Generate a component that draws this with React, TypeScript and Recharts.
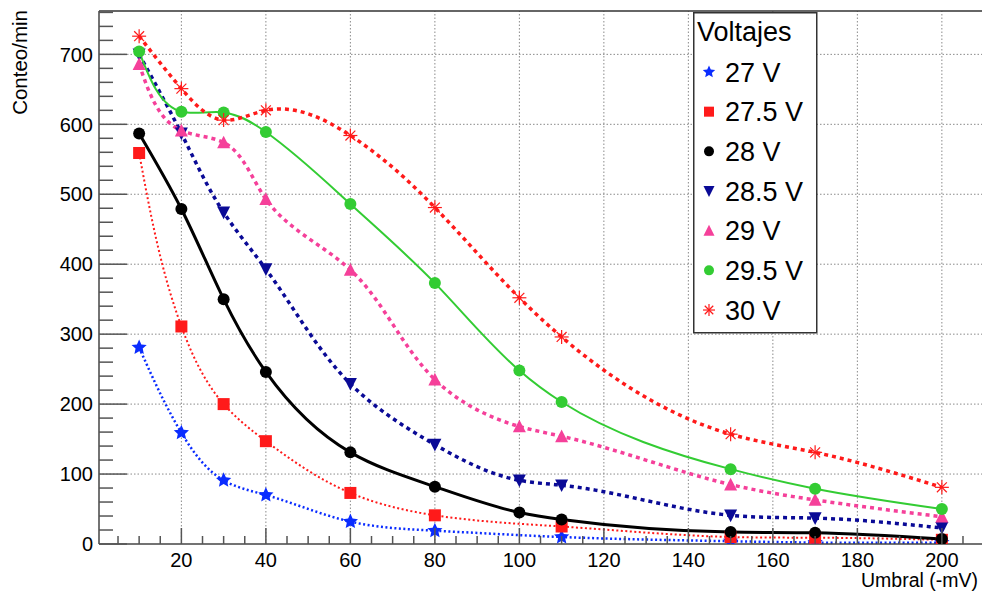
import React from "react";
import { LineChart, Line, XAxis, YAxis, ReferenceLine, Legend } from "recharts";

// ---- data ----
const umbral = [10, 20, 30, 40, 60, 80, 100, 110, 150, 170, 200];
const umbralSin100 = [10, 20, 30, 40, 60, 80, 110, 150, 170, 200];

const conteo27 = [281, 159, 91, 70, 32, 19, 10, 4, 2, 2];
const conteo275 = [559, 311, 200, 147, 73, 41, 25, 10, 9, 6];
const conteo28 = [587, 479, 350, 246, 131, 82, 45, 35, 17, 16, 7];
const conteo285 = [700, 587, 474, 393, 229, 142, 91, 84, 41, 37, 23];
const conteo29 = [686, 591, 574, 493, 392, 235, 168, 154, 85, 63, 39];
const conteo295 = [704, 618, 617, 589, 486, 373, 248, 203, 107, 79, 50];
const conteo30 = [726, 651, 606, 620, 584, 481, 352, 296, 157, 131, 81];

const seriesNames = ["27 V", "27.5 V", "28 V", "28.5 V", "29 V", "29.5 V", "30 V"];
const legendTitle = "Voltajes";
const xTitle = "Umbral (-mV)";
const yTitle = "Conteo/min";

const xTicks = [5, 10, 15, 20, 25, 30, 35, 40, 45, 50, 55, 60, 65, 70, 75, 80, 85, 90, 95, 100, 105, 110, 115, 120, 125, 130, 135, 140, 145, 150, 155, 160, 165, 170, 175, 180, 185, 190, 195, 200, 205];
const xMajor = [20, 40, 60, 80, 100, 120, 140, 160, 180, 200];
const yTicks = [0, 20, 40, 60, 80, 100, 120, 140, 160, 180, 200, 220, 240, 260, 280, 300, 320, 340, 360, 380, 400, 420, 440, 460, 480, 500, 520, 540, 560, 580, 600, 620, 640, 660, 680, 700, 720, 740, 760];
const yMajor = [0, 100, 200, 300, 400, 500, 600, 700];
const xDomain: [number, number] = [0.5, 209.5];
const yDomain: [number, number] = [0, 762];

// ---- styles ----
const FONT = '"Liberation Sans", Arial, Helvetica, sans-serif';
type Kind = "star" | "square" | "circle" | "down" | "up" | "asterisk";

const styles: { color: string; kind: Kind; width: number; dash?: string }[] = [
  { color: "#0a2cff", kind: "star", width: 2.5, dash: "2 2.5" },
  { color: "#ff1a1a", kind: "square", width: 2, dash: "2 2.5" },
  { color: "#000000", kind: "circle", width: 3 },
  { color: "#0a0a96", kind: "down", width: 3.5, dash: "4 4" },
  { color: "#f5409a", kind: "up", width: 3.5, dash: "4 4" },
  { color: "#33cc33", kind: "circle", width: 2 },
  { color: "#ff1a1a", kind: "asterisk", width: 3.5, dash: "4 4" },
];

const seriesX = [umbralSin100, umbralSin100, umbral, umbral, umbral, umbral, umbral];
const seriesY = [conteo27, conteo275, conteo28, conteo285, conteo29, conteo295, conteo30];

// ---- parametric (chord-length) natural cubic spline curve ----
function secondDerivs(t: number[], v: number[]): number[] {
  const n = v.length;
  const M = new Array(n).fill(0);
  if (n < 3) return M;
  const a: number[] = [], b: number[] = [], c: number[] = [], d: number[] = [];
  for (let i = 1; i < n - 1; i++) {
    const h0 = t[i] - t[i - 1];
    const h1 = t[i + 1] - t[i];
    a.push(h0);
    b.push(2 * (h0 + h1));
    c.push(h1);
    d.push(6 * ((v[i + 1] - v[i]) / h1 - (v[i] - v[i - 1]) / h0));
  }
  const m = b.length;
  for (let i = 1; i < m; i++) {
    const w = a[i] / b[i - 1];
    b[i] -= w * c[i - 1];
    d[i] -= w * d[i - 1];
  }
  const sol = new Array(m).fill(0);
  sol[m - 1] = d[m - 1] / b[m - 1];
  for (let i = m - 2; i >= 0; i--) sol[i] = (d[i] - c[i] * sol[i + 1]) / b[i];
  for (let i = 0; i < m; i++) M[i + 1] = sol[i];
  return M;
}

function smoothCurve(context: any) {
  let pts: [number, number][] = [];
  return {
    areaStart() {},
    areaEnd() {},
    lineStart() {
      pts = [];
    },
    point(x: number, y: number) {
      pts.push([+x, +y]);
    },
    lineEnd() {
      const n = pts.length;
      if (n === 0) return;
      context.moveTo(pts[0][0], pts[0][1]);
      if (n === 1) return;
      const t = [0];
      for (let i = 1; i < n; i++) {
        const dx = pts[i][0] - pts[i - 1][0];
        const dy = pts[i][1] - pts[i - 1][1];
        t.push(t[i - 1] + Math.max(1e-6, Math.hypot(dx, dy)));
      }
      const xs = pts.map((p) => p[0]);
      const ys = pts.map((p) => p[1]);
      const Mx = secondDerivs(t, xs);
      const My = secondDerivs(t, ys);
      for (let i = 0; i < n - 1; i++) {
        const h = t[i + 1] - t[i];
        const dx0 = (xs[i + 1] - xs[i]) / h - (h * (2 * Mx[i] + Mx[i + 1])) / 6;
        const dx1 = (xs[i + 1] - xs[i]) / h + (h * (Mx[i] + 2 * Mx[i + 1])) / 6;
        const dy0 = (ys[i + 1] - ys[i]) / h - (h * (2 * My[i] + My[i + 1])) / 6;
        const dy1 = (ys[i + 1] - ys[i]) / h + (h * (My[i] + 2 * My[i + 1])) / 6;
        context.bezierCurveTo(
          xs[i] + (h / 3) * dx0,
          ys[i] + (h / 3) * dy0,
          xs[i + 1] - (h / 3) * dx1,
          ys[i + 1] - (h / 3) * dy1,
          xs[i + 1],
          ys[i + 1]
        );
      }
    },
  };
}

function Marker({ kind, cx, cy, s, color }: { kind: Kind; cx: number; cy: number; s: number; color: string }) {
  if (kind === "circle") return <circle cx={cx} cy={cy} r={s / 2} fill={color} />;
  if (kind === "square") return <rect x={cx - s / 2} y={cy - s / 2} width={s} height={s} fill={color} />;
  if (kind === "up") {
    const h = s * 0.9;
    return <polygon points={`${cx},${cy - h / 2 - 1} ${cx - s / 2},${cy + h / 2} ${cx + s / 2},${cy + h / 2}`} fill={color} />;
  }
  if (kind === "down") {
    const h = s * 0.9;
    return <polygon points={`${cx},${cy + h / 2 + 1} ${cx - s / 2},${cy - h / 2} ${cx + s / 2},${cy - h / 2}`} fill={color} />;
  }
  if (kind === "star") {
    const R = s / 2 + 1;
    const r = R * 0.47;
    const pts: string[] = [];
    for (let i = 0; i < 10; i++) {
      const a = -Math.PI / 2 + (i * Math.PI) / 5;
      const rr = i % 2 === 0 ? R : r;
      pts.push(`${cx + rr * Math.cos(a)},${cy + rr * Math.sin(a)}`);
    }
    return <polygon points={pts.join(" ")} fill={color} />;
  }
  const L = s / 2;
  const d = L * 0.707;
  return (
    <g stroke={color} strokeWidth={1.2} fill="none">
      <line x1={cx - L} y1={cy} x2={cx + L} y2={cy} />
      <line x1={cx} y1={cy - L} x2={cx} y2={cy + L} />
      <line x1={cx - d} y1={cy - d} x2={cx + d} y2={cy + d} />
      <line x1={cx - d} y1={cy + d} x2={cx + d} y2={cy - d} />
    </g>
  );
}

const markerSize: Record<Kind, number> = { star: 14, square: 12, circle: 12, down: 13, up: 13, asterisk: 14 };
const legendSize: Record<Kind, number> = { star: 11, square: 10, circle: 10, down: 11, up: 11, asterisk: 12 };

const XTick = (props: any) => {
  const { x, y, payload } = props;
  const v = payload.value;
  const major = xMajor.includes(v);
  return (
    <g>
      <line x1={x} x2={x} y1={y} y2={y - (major ? 16 : 8)} stroke="#555" strokeWidth={1.5} />
      {major && (
        <text x={x} y={y + 23} textAnchor="middle" fontFamily={FONT} fontSize={20} fill="#000">
          {v}
        </text>
      )}
    </g>
  );
};

const YTick = (props: any) => {
  const { x, y, payload } = props;
  const v = payload.value;
  const major = yMajor.includes(v);
  return (
    <g>
      <line x1={x} x2={x + (major ? 28 : 14)} y1={y} y2={y} stroke="#555" strokeWidth={1.5} />
      {major && (
        <text x={x - 6} y={y} dy="0.36em" textAnchor="end" fontFamily={FONT} fontSize={20} fill="#000">
          {v}
        </text>
      )}
    </g>
  );
};

const XTitle = (props: any) => {
  const vb = props.viewBox || { x: 99, y: 544, width: 883, height: 49 };
  const tx = vb.x + vb.width - 4;
  return (
    <text x={tx} y={vb.y + 43} textAnchor="end" fontFamily={FONT} fontSize={19.5} fill="#000">
      {xTitle}
    </text>
  );
};

const YTitle = (props: any) => {
  const vb = props.viewBox || { x: 0, y: 11, width: 99, height: 533 };
  const tx = vb.x + 27;
  const ty = vb.y - 1;
  return (
    <text x={tx} y={ty} transform={`rotate(-90, ${tx}, ${ty})`} textAnchor="end" fontFamily={FONT} fontSize={20.5} fill="#000">
      {yTitle}
    </text>
  );
};

const LegendBox = (props: any) => {
  const payload = props.payload || [];
  return (
    <svg width={125} height={322} style={{ display: "block" }}>
      <rect x={0.75} y={0.75} width={123} height={320} fill="#fff" stroke="#333" strokeWidth={1.5} />
      <text x={4} y={29} fontFamily={FONT} fontSize={27} fill="#000">
        {legendTitle}
      </text>
      {payload.map((p: any, i: number) => {
        const st = styles[i];
        const cy = 60 + i * 39.67;
        return (
          <g key={i}>
            <Marker kind={st.kind} cx={16} cy={cy} s={legendSize[st.kind]} color={st.color} />
            <text x={32} y={cy + 9.7} fontFamily={FONT} fontSize={27} fill="#000">
              {p.value}
            </text>
          </g>
        );
      })}
    </svg>
  );
};

export default function App() {
  return (
    <div style={{ position: "absolute", left: 0, top: 0, width: 982, height: 593, background: "#fff" }}>
      <LineChart width={982} height={593} margin={{ top: 11, right: 0, bottom: 0, left: 0 }}>
        {xMajor.map((v) => (
          <ReferenceLine key={"gx" + v} x={v} stroke="#8a8a8a" strokeWidth={1} strokeDasharray="1.5 2" />
        ))}
        {yMajor
          .filter((v) => v > 0)
          .map((v) => (
            <ReferenceLine key={"gy" + v} y={v} stroke="#8a8a8a" strokeWidth={1} strokeDasharray="1.5 2" />
          ))}
        <ReferenceLine y={yDomain[1]} stroke="#333" strokeWidth={1.5} />
        <XAxis
          dataKey="x"
          type="number"
          domain={xDomain}
          ticks={xTicks}
          interval={0}
          tickSize={0}
          tickMargin={0}
          tick={<XTick />}
          tickLine={false}
          height={49}
          allowDataOverflow
          axisLine={{ stroke: "#444", strokeWidth: 1.5 }}
          label={<XTitle />}
        />
        <YAxis
          type="number"
          domain={yDomain}
          ticks={yTicks}
          interval={0}
          tickSize={0}
          tickMargin={0}
          tick={<YTick />}
          tickLine={false}
          width={99}
          allowDataOverflow
          axisLine={{ stroke: "#444", strokeWidth: 1.5 }}
          label={<YTitle />}
        />
        {seriesNames.map((name, i) => {
          const st = styles[i];
          const data = seriesX[i].map((x, j) => ({ x, y: seriesY[i][j] }));
          return (
            <Line
              key={name}
              name={name}
              data={data}
              dataKey="y"
              type={smoothCurve as any}
              stroke={st.color}
              strokeWidth={st.width}
              strokeDasharray={st.dash}
              isAnimationActive={false}
              activeDot={false}
              dot={(p: any) => (
                <Marker key={name + p.index} kind={st.kind} cx={p.cx} cy={p.cy} s={markerSize[st.kind]} color={st.color} />
              )}
            />
          );
        })}
        <Legend
          layout="vertical"
          align="center"
          verticalAlign="middle"
          content={<LegendBox />}
          wrapperStyle={{ position: "absolute", left: 693, top: 12, width: 125, height: 322 }}
        />
      </LineChart>
    </div>
  );
}
